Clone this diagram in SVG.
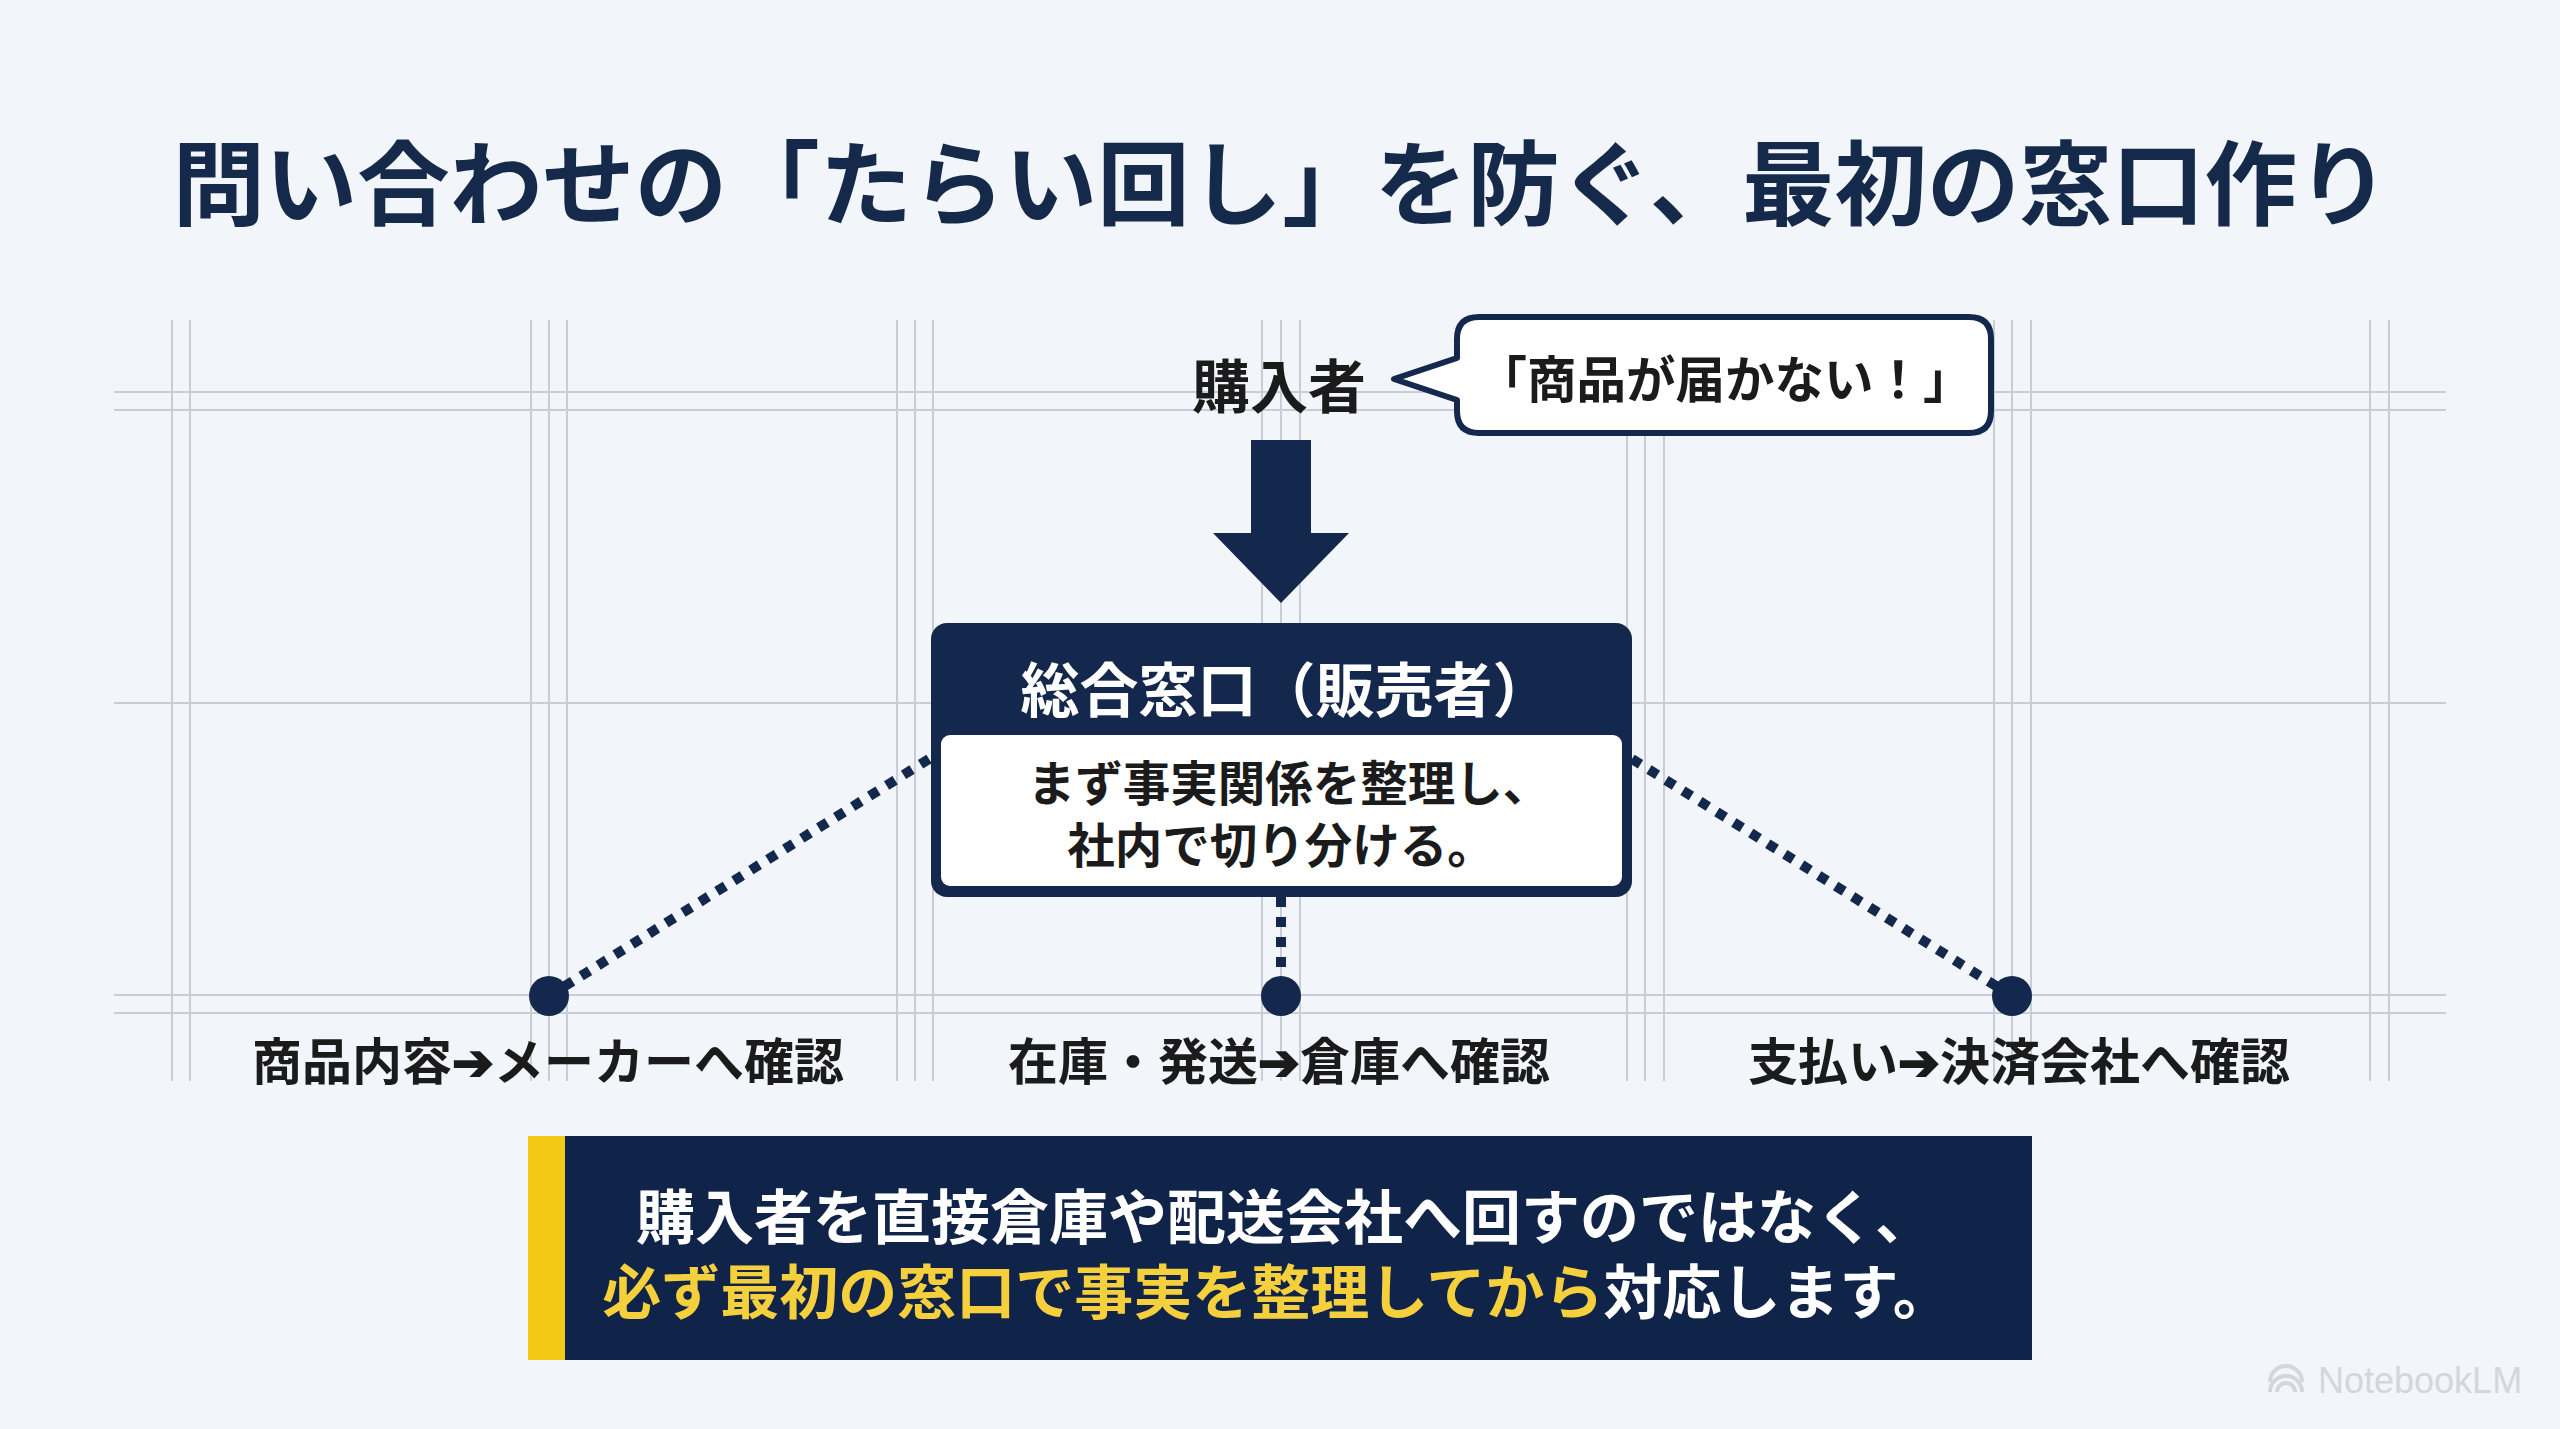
<svg xmlns="http://www.w3.org/2000/svg" width="2560" height="1429" viewBox="0 0 2560 1429">
<style>
.jp{font-family:"Noto Sans CJK JP","Noto Sans CJK SC","DejaVu Sans",sans-serif;font-weight:700}
.arw{font-family:"DejaVu Sans",sans-serif;font-weight:400;stroke:#1b1b1b;stroke-width:2}
.grid line{stroke:#c9cdd5;stroke-width:2}
.dots{stroke:#13284c;stroke-width:10;stroke-dasharray:10 10;fill:none}
.navy{fill:#13284c}
.lbl{font-size:50px;fill:#1b1b1b;text-anchor:middle}
</style>
<rect width="2560" height="1429" fill="#f2f5f9"/>
<g class="grid">
<line x1="172" y1="320" x2="172" y2="1081"/><line x1="190" y1="320" x2="190" y2="1081"/>
<line x1="531" y1="320" x2="531" y2="1081"/><line x1="549" y1="320" x2="549" y2="1081"/><line x1="567" y1="320" x2="567" y2="1081"/>
<line x1="897" y1="320" x2="897" y2="1081"/><line x1="915" y1="320" x2="915" y2="1081"/><line x1="933" y1="320" x2="933" y2="1081"/>
<line x1="1262" y1="320" x2="1262" y2="1081"/><line x1="1281" y1="320" x2="1281" y2="1081"/><line x1="1300" y1="320" x2="1300" y2="1081"/>
<line x1="1627" y1="320" x2="1627" y2="1081"/><line x1="1645" y1="320" x2="1645" y2="1081"/><line x1="1664" y1="320" x2="1664" y2="1081"/>
<line x1="1994" y1="320" x2="1994" y2="1081"/><line x1="2012" y1="320" x2="2012" y2="1081"/><line x1="2031" y1="320" x2="2031" y2="1081"/>
<line x1="2370" y1="320" x2="2370" y2="1081"/><line x1="2389" y1="320" x2="2389" y2="1081"/>
<line x1="114" y1="392" x2="2446" y2="392"/><line x1="114" y1="410" x2="2446" y2="410"/>
<line x1="114" y1="703" x2="2446" y2="703"/>
<line x1="114" y1="995" x2="2446" y2="995"/><line x1="114" y1="1013" x2="2446" y2="1013"/>
</g>
<text class="jp" x="1281" y="218" font-size="92.5" fill="#15294a" text-anchor="middle">問い合わせの「たらい回し」を防ぐ、最初の窓口作り</text>
<g id="connectors">
<line class="dots" x1="929" y1="759" x2="549" y2="996"/>
<line class="dots" x1="1281" y1="897" x2="1281" y2="996"/>
<line class="dots" x1="1632" y1="759" x2="2012" y2="996"/>
<polygon class="navy" points="1251,440 1311,440 1311,533 1349,533 1281,603 1213,533 1251,533"/>
</g>
<g id="buyer">
<text class="jp" x="1279" y="408" font-size="58" fill="#1b1b1b" text-anchor="middle">購入者</text>
</g>
<g id="bubble">
<path d="M1479 317 H1969 Q1991 317 1991 339 V411 Q1991 433 1969 433 H1479 Q1457 433 1457 411 V400 L1394 379 L1457 358 V339 Q1457 317 1479 317 Z" fill="#ffffff" stroke="#13284c" stroke-width="6" stroke-linejoin="round"/>
<text class="jp" x="1725" y="398" font-size="49.5" fill="#1b1b1b" text-anchor="middle">「商品が届かない！」</text>
</g>
<g id="main-box">
<rect x="931" y="623" width="701" height="274" rx="16" class="navy"/>
<rect x="941" y="735" width="681" height="151" rx="9" fill="#ffffff"/>
<text class="jp" x="1286" y="712" font-size="59" fill="#ffffff" text-anchor="middle">総合窓口（販売者）</text>
<text class="jp" x="1289" y="801" font-size="47.5" fill="#1b1b1b" text-anchor="middle">まず事実関係を整理し、</text>
<text class="jp" x="1281" y="863" font-size="47.5" fill="#1b1b1b" text-anchor="middle">社内で切り分ける。</text>
</g>
<g id="node-maker">
<circle cx="549" cy="996" r="20" class="navy"/>
<text class="jp lbl" x="548" y="1080">商品内容<tspan class="arw">➔</tspan>メーカーへ確認</text>
</g>
<g id="node-warehouse">
<circle cx="1281" cy="996" r="20" class="navy"/>
<text class="jp lbl" x="1279" y="1080">在庫・発送<tspan class="arw">➔</tspan>倉庫へ確認</text>
</g>
<g id="node-payment">
<circle cx="2012" cy="996" r="20" class="navy"/>
<text class="jp lbl" x="2019" y="1080">支払い<tspan class="arw">➔</tspan>決済会社へ確認</text>
</g>
<g id="banner">
<rect x="528" y="1136" width="1504" height="224" fill="#10244a"/>
<rect x="528" y="1136" width="37" height="224" fill="#f3c916"/>
<text class="jp" x="1285" y="1239" font-size="59" fill="#ffffff" text-anchor="middle">購入者を直接倉庫や配送会社へ回すのではなく、</text>
<text class="jp" x="1277" y="1314" font-size="59" fill="#ffffff" text-anchor="middle"><tspan fill="#f5cf3c">必ず最初の窓口で事実を整理してから</tspan>対応します。</text>
</g>
<g id="watermark" fill="none" stroke="#d3d7dd" stroke-width="4">
<path d="M2270 1392 A16 16 0 0 1 2302 1392"/>
<path d="M2277 1392 A9 9 0 0 1 2295 1392"/>
<path d="M2270 1382 A16 16 0 0 1 2302 1382"/>
<text x="2318" y="1393" font-family="Liberation Sans,Arial,sans-serif" font-size="36" fill="#d3d7dd" stroke="none">NotebookLM</text>
</g>
</svg>
